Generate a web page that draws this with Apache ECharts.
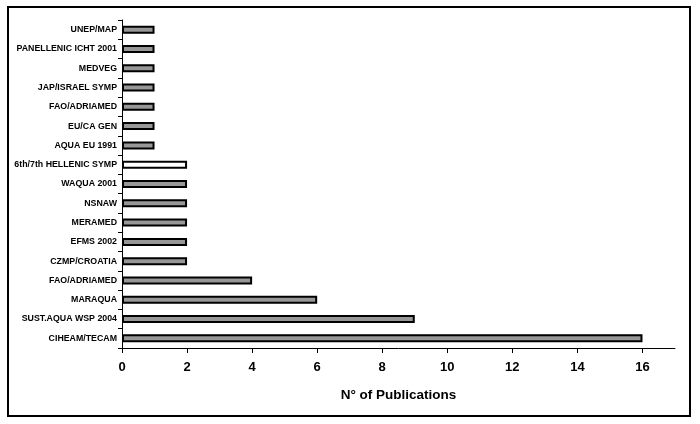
<!DOCTYPE html>
<html><head><meta charset="utf-8">
<script src="https://cdn.jsdelivr.net/npm/echarts@6/dist/echarts.min.js"></script>
<style>html,body{margin:0;padding:0;background:#fff}#c{width:700px;height:424px}</style>
</head><body><div id="c"></div>
<script>
const categories = ["UNEP/MAP","PANELLENIC ICHT 2001","MEDVEG","JAP/ISRAEL SYMP","FAO/ADRIAMED","EU/CA GEN","AQUA EU 1991","6th/7th HELLENIC SYMP","WAQUA 2001","NSNAW","MERAMED","EFMS 2002","CZMP/CROATIA","FAO/ADRIAMED","MARAQUA","SUST.AQUA WSP 2004","CIHEAM/TECAM"];
const values = [1,1,1,1,1,1,1,2,2,2,2,2,2,4,6,9,16];
const xTicks = [0,2,4,6,8,10,12,14,16];
const highlighted = "6th/7th HELLENIC SYMP";

const chart = echarts.init(document.getElementById('c'), null, {renderer:'canvas'});
const cats = categories.slice().reverse();
const vals = values.slice().reverse();
chart.setOption({
  animation:false,
  grid:{left:122,right:25,top:20,bottom:76},
  graphic:[{type:'rect',shape:{x:8,y:7,width:682,height:409},style:{fill:'none',stroke:'#000',lineWidth:2},z:0}],
  xAxis:{type:'value',min:0,max:17,interval:1,
    name:'N° of Publications',nameLocation:'middle',nameGap:40,
    nameTextStyle:{fontFamily:'Liberation Sans, Arial',fontWeight:'bold',fontSize:13.5,color:'#000'},
    axisLine:{show:true,lineStyle:{color:'#000',width:1}},
    axisTick:{show:true,length:5,lineStyle:{color:'#000'},customValues:xTicks},
    axisLabel:{color:'#000',fontFamily:'Liberation Sans, Arial',fontWeight:'bold',fontSize:13,margin:13,customValues:xTicks},
    splitLine:{show:false}},
  yAxis:{type:'category',data:cats,boundaryGap:true,
    axisLine:{show:true,lineStyle:{color:'#000',width:1}},
    axisTick:{show:true,length:4,lineStyle:{color:'#000'}},
    axisLabel:{color:'#000',fontFamily:'Liberation Sans, Arial',fontWeight:'bold',fontSize:8.8,margin:5,interval:0}},
  series:[{type:'bar',barWidth:8,
    data:vals.map((v,i)=>({value:v,itemStyle:{color: cats[i]===highlighted ? '#ffffff' : '#979797'}})),
    itemStyle:{borderColor:'#000',borderWidth:2}}]
});
</script></body></html>
